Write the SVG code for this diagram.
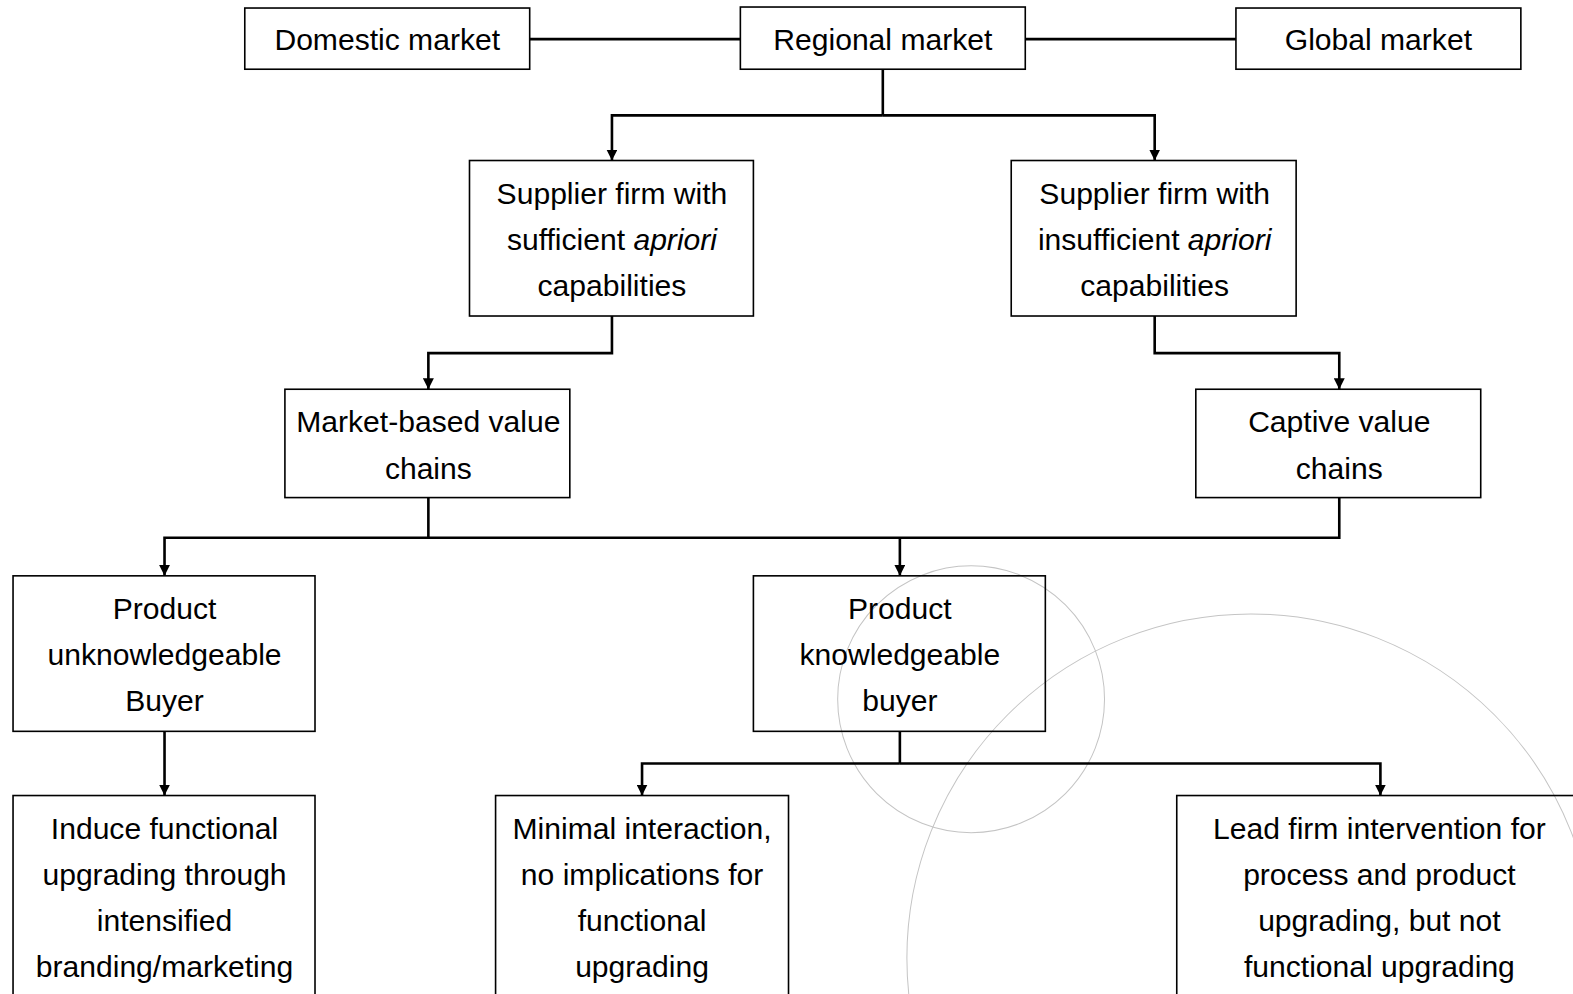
<svg xmlns="http://www.w3.org/2000/svg" width="1573" height="994" viewBox="0 0 1573 994">
<style>
.box{fill:none;stroke:#000;stroke-width:1.6}
.t{font-family:"Liberation Sans",Arial,sans-serif;font-size:30px;fill:#000;text-anchor:middle}
.c{fill:none;stroke:#000;stroke-width:2.6}
.deco{fill:none;stroke:#c4c4c4;stroke-width:1}
</style>
<defs>
<marker id="ah" viewBox="0 0 10 10" refX="10" refY="5" markerWidth="4.2" markerHeight="4.2" orient="auto" markerUnits="strokeWidth">
<path d="M0,0 L10,5 L0,10 z" fill="#000"/>
</marker>
</defs>
<rect width="1573" height="994" fill="#fff"/>
<g transform="scale(1.0032)">
<g id="decor">
<circle class="deco" cx="968" cy="697" r="133"/>
<circle class="deco" cx="1247" cy="955" r="343"/>
</g>
<g id="connectors">
<path class="c" d="M528,39 H738"/>
<path class="c" d="M1022,39 H1232"/>
<path class="c" d="M880,69 V115"/>
<path class="c" d="M880,115 H610 V160" marker-end="url(#ah)"/>
<path class="c" d="M880,115 H1151 V160" marker-end="url(#ah)"/>
<path class="c" d="M610,315 V352 H427 V388" marker-end="url(#ah)"/>
<path class="c" d="M1151,315 V352 H1335 V388" marker-end="url(#ah)"/>
<path class="c" d="M427,496 V536"/>
<path class="c" d="M1335,496 V536 H164 V574" marker-end="url(#ah)"/>
<path class="c" d="M897,536 V574" marker-end="url(#ah)"/>
<path class="c" d="M164,729 V793" marker-end="url(#ah)"/>
<path class="c" d="M897,729 V761"/>
<path class="c" d="M897,761 H640 V793" marker-end="url(#ah)"/>
<path class="c" d="M897,761 H1376 V793" marker-end="url(#ah)"/>
</g>
<g id="domestic"><rect class="box" x="244" y="8" width="284" height="61"/><text class="t" x="386" y="50">Domestic market</text></g>
<g id="regional"><rect class="box" x="738" y="7" width="284" height="62"/><text class="t" x="880" y="50">Regional market</text></g>
<g id="global"><rect class="box" x="1232" y="8" width="284" height="61"/><text class="t" x="1374" y="50">Global market</text></g>
<g id="sufficient"><rect class="box" x="468" y="160" width="283" height="155"/>
<text class="t" x="610" y="203">Supplier firm with</text>
<text class="t" x="610" y="249">sufficient <tspan font-style="italic">apriori</tspan></text>
<text class="t" x="610" y="295">capabilities</text></g>
<g id="insufficient"><rect class="box" x="1008" y="160" width="284" height="155"/>
<text class="t" x="1151" y="203">Supplier firm with</text>
<text class="t" x="1151" y="249">insufficient <tspan font-style="italic">apriori</tspan></text>
<text class="t" x="1151" y="295">capabilities</text></g>
<g id="marketbased"><rect class="box" x="284" y="388" width="284" height="108"/>
<text class="t" x="427" y="431">Market-based value</text>
<text class="t" x="427" y="477">chains</text></g>
<g id="captive"><rect class="box" x="1192" y="388" width="284" height="108"/>
<text class="t" x="1335" y="431">Captive value</text>
<text class="t" x="1335" y="477">chains</text></g>
<g id="unknowledgeable"><rect class="box" x="13" y="574" width="301" height="155"/>
<text class="t" x="164" y="617">Product</text>
<text class="t" x="164" y="663">unknowledgeable</text>
<text class="t" x="164" y="709">Buyer</text></g>
<g id="knowledgeable"><rect class="box" x="751" y="574" width="291" height="155"/>
<text class="t" x="897" y="617">Product</text>
<text class="t" x="897" y="663">knowledgeable</text>
<text class="t" x="897" y="709">buyer</text></g>
<g id="induce"><rect class="box" x="13" y="793" width="301" height="220"/>
<text class="t" x="164" y="836">Induce functional</text>
<text class="t" x="164" y="882">upgrading through</text>
<text class="t" x="164" y="928">intensified</text>
<text class="t" x="164" y="974">branding/marketing</text></g>
<g id="minimal"><rect class="box" x="494" y="793" width="292" height="220"/>
<text class="t" x="640" y="836">Minimal interaction,</text>
<text class="t" x="640" y="882">no implications for</text>
<text class="t" x="640" y="928">functional</text>
<text class="t" x="640" y="974">upgrading</text></g>
<g id="leadfirm"><rect class="box" x="1173" y="793" width="404" height="220"/>
<text class="t" x="1375" y="836">Lead firm intervention for</text>
<text class="t" x="1375" y="882">process and product</text>
<text class="t" x="1375" y="928">upgrading, but not</text>
<text class="t" x="1375" y="974">functional upgrading</text></g>
</g>
</svg>
